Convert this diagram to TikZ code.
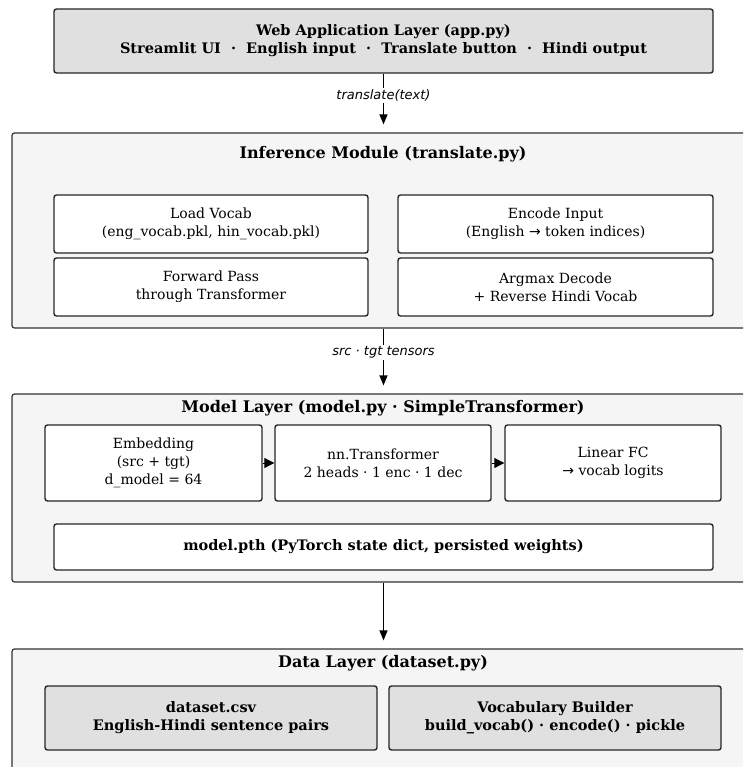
\documentclass[tikz,border=0pt]{standalone}
\usepackage{fontspec}
\setmainfont{DejaVu Serif}
\newfontfamily\labfont{DejaVu Sans}
\usetikzlibrary{arrows.meta}
\begin{document}
\begin{tikzpicture}[x=1pt,y=-1pt,
  font=\fontsize{14}{18}\selectfont,
  container/.style={draw=black!80, line width=1.2pt, fill=black!4, rounded corners=2.5pt, inner sep=0pt},
  title/.style={font=\fontsize{16}{18}\selectfont\bfseries, inner sep=0pt},
  graybox/.style={draw=black!85, line width=1.4pt, fill=black!12, rounded corners=2.5pt, align=center, inner sep=0pt, font=\fontsize{14.5}{18}\selectfont\bfseries},
  whitebox/.style={draw=black!85, line width=1.4pt, fill=white, rounded corners=2.5pt, align=center, inner sep=0pt},
  flow/.style={-{Triangle[length=10pt,width=8pt]}, line width=1.2pt},
  lab/.style={fill=white, font=\labfont\itshape\fontsize{13}{15}\selectfont, inner sep=2pt}
]
\useasboundingbox (0,0) rectangle (743,767);
\clip (0,0) rectangle (743,767);
\fill[white] (0,0) rectangle (743,767);

% Web layer
\node[graybox, minimum width=659pt, minimum height=64pt] (web) at (383.5,41)
  {Web Application Layer (app.py)\\Streamlit UI \ · \ English input \ · \ Translate button \ · \ Hindi output};

% Inference module
\node[container, minimum width=748pt, minimum height=195pt] (inf) at (386,230.5) {};
\node[title] (inft) at (383,154) {Inference Module (translate.py)};
\node[whitebox, minimum width=314pt, minimum height=58pt] (load) at (211,224) {Load Vocab\\(eng\_vocab.pkl, hin\_vocab.pkl)};
\node[whitebox, minimum width=315pt, minimum height=58pt] (enc) at (555.5,224) {Encode Input\\(English {\labfont→} token indices)};
\node[whitebox, minimum width=314pt, minimum height=58pt] (fwd) at (211,287) {Forward Pass\\through Transformer};
\node[whitebox, minimum width=315pt, minimum height=58pt] (dec) at (555.5,287) {Argmax Decode\\+ Reverse Hindi Vocab};

% Model layer
\node[container, minimum width=748pt, minimum height=188pt] (mod) at (386,488) {};
\node[title] (modt) at (383,408) {Model Layer (model.py · SimpleTransformer)};
\node[whitebox, minimum width=217pt, minimum height=76pt] (emb) at (153.5,463) {Embedding\\(src + tgt)\\d\_model = 64};
\node[whitebox, minimum width=216pt, minimum height=76pt] (trf) at (383,463) {nn.Transformer\\2 heads · 1 enc · 1 dec};
\node[whitebox, minimum width=216pt, minimum height=76pt] (fc) at (613,463) {Linear FC\\{\labfont→} vocab logits};
\node[whitebox, minimum width=659pt, minimum height=46pt, font=\fontsize{14.5}{18}\selectfont\bfseries] (pth) at (383.5,547) {model.pth (PyTorch state dict, persisted weights)};

% Data layer
\node[container, minimum width=748pt, minimum height=160pt] (data) at (386,729) {};
\node[title] (datat) at (383,663) {Data Layer (dataset.py)};
\node[graybox, minimum width=332pt, minimum height=64pt] (csv) at (211,718) {dataset.csv\\English-Hindi sentence pairs};
\node[graybox, minimum width=332pt, minimum height=64pt] (voc) at (555,718) {Vocabulary Builder\\build\_vocab() · encode() · pickle};

% connectors
\draw[flow, shorten >=8pt] (web.south) -- node[lab, pos=0.37] {translate(text)} (web.south |- inf.north);
\draw[flow, shorten >=8pt] (inf.south -| web.south) -- node[lab, pos=0.37] {src · tgt tensors} (web.south |- mod.north);
\draw[flow, shorten >=8pt] (mod.south -| web.south) -- (web.south |- data.north);
\draw[-{Triangle[length=10pt,width=10pt]}, line width=1pt] (emb.east) -- (trf.west);
\draw[-{Triangle[length=10pt,width=10pt]}, line width=1pt] (trf.east) -- (fc.west);
\end{tikzpicture}
\end{document}
